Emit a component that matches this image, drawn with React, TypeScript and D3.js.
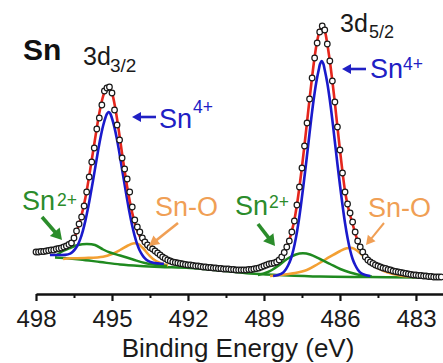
import React, { useEffect, useRef } from "react";
import * as d3 from "d3";

// Measured XPS spectrum: [binding energy (eV), intensity (a.u.)]
const XPS_DATA: [number, number][] = [
  [498.0, 38], [497.9, 38], [497.8, 38.5], [497.7, 38.5], [497.6, 39], [497.5, 39.5], [497.4, 40], [497.3, 40],
  [497.2, 41], [497.1, 41.5], [497.0, 42], [496.9, 43], [496.8, 44], [496.7, 45.5], [496.6, 47], [496.5, 52],
  [496.4, 59], [496.3, 66], [496.2, 73], [496.1, 84], [496.0, 98], [495.9, 113], [495.8, 128], [495.7, 142],
  [495.6, 161], [495.5, 172], [495.4, 185], [495.3, 199], [495.2, 202], [495.1, 203], [495.0, 197], [494.9, 180],
  [494.8, 165], [494.7, 150], [494.6, 132], [494.5, 121], [494.4, 111], [494.3, 98], [494.2, 83], [494.1, 70],
  [494.0, 63], [493.9, 58], [493.8, 52], [493.7, 48], [493.6, 45], [493.5, 42.5], [493.4, 41], [493.3, 39],
  [493.2, 37], [493.1, 35], [493.0, 33], [492.9, 31.5], [492.8, 30], [492.7, 29], [492.6, 28], [492.5, 27.5],
  [492.4, 27], [492.3, 26.5], [492.2, 26], [492.1, 25.5], [492.0, 25], [491.9, 25], [491.8, 24.5], [491.7, 24],
  [491.6, 24], [491.5, 23.5], [491.4, 23], [491.3, 23], [491.2, 22.5], [491.1, 22.5], [491.0, 22], [490.9, 22],
  [490.8, 21.5], [490.7, 21.5], [490.6, 21], [490.5, 21], [490.4, 21], [490.3, 20.5], [490.2, 20.5], [490.1, 20],
  [490.0, 20], [489.9, 20], [489.8, 20], [489.7, 20], [489.6, 20.5], [489.5, 20.5], [489.4, 21], [489.3, 21.5],
  [489.2, 22], [489.1, 23], [489.0, 24], [488.9, 25], [488.8, 26], [488.7, 26.5], [488.6, 27], [488.5, 28],
  [488.4, 30], [488.3, 33], [488.2, 37.5], [488.1, 43], [488.0, 49], [487.9, 58], [487.8, 69], [487.7, 85],
  [487.6, 103], [487.5, 122], [487.4, 144], [487.3, 167], [487.2, 191], [487.1, 212], [487.0, 232], [486.9, 247],
  [486.8, 258], [486.7, 264], [486.6, 260], [486.5, 246], [486.4, 229], [486.3, 209], [486.2, 188], [486.1, 163],
  [486.0, 140], [485.9, 117], [485.8, 98], [485.7, 86], [485.6, 77], [485.5, 68], [485.4, 58], [485.3, 49],
  [485.2, 43], [485.1, 38], [485.0, 33], [484.9, 30], [484.8, 28], [484.7, 26.5], [484.6, 25], [484.5, 24],
  [484.4, 23], [484.3, 22], [484.2, 21.5], [484.1, 20.5], [484.0, 20], [483.9, 19], [483.8, 18.5], [483.7, 18],
  [483.6, 17.5], [483.5, 17], [483.4, 16.5], [483.3, 16], [483.2, 15.5], [483.1, 15], [483.0, 15], [482.9, 14.5],
  [482.8, 14.5], [482.7, 14], [482.6, 14], [482.5, 13.5], [482.4, 13.5], [482.3, 13], [482.2, 13], [482.1, 13],
  [482.0, 13],
];

// Fit envelope (red)
const FIT_ENVELOPE: [number, number][] = [
  [497.4, 38.5], [497.0, 41], [496.8, 43], [496.6, 46.5], [496.5, 51], [496.4, 58], [496.3, 66], [496.2, 75],
  [496.1, 86], [496.0, 99], [495.9, 114], [495.8, 130], [495.7, 146], [495.6, 162], [495.5, 177], [495.4, 189],
  [495.3, 197.5], [495.2, 201.5], [495.1, 202], [495.0, 197], [494.9, 186], [494.8, 171], [494.7, 154],
  [494.6, 136], [494.5, 119], [494.4, 103], [494.3, 89], [494.2, 77], [494.1, 67], [494.0, 59], [493.8, 49],
  [493.6, 43], [493.4, 39], [493.2, 35.5], [493.0, 32.5], [492.7, 29], [492.4, 26.5], [492.0, 24.5],
  [491.5, 23], [491.0, 21.5], [490.5, 20.5], [490.0, 20], [489.6, 20], [489.3, 21], [489.0, 23], [488.8, 25],
  [488.6, 27], [488.4, 30], [488.2, 37], [488.1, 43], [488.0, 50], [487.9, 59], [487.8, 70], [487.7, 85],
  [487.6, 103], [487.5, 123], [487.4, 145], [487.3, 168], [487.2, 191], [487.1, 213], [487.0, 233],
  [486.9, 249], [486.8, 259], [486.7, 263], [486.6, 259], [486.5, 246], [486.4, 229], [486.3, 209],
  [486.2, 187], [486.1, 163], [486.0, 140], [485.9, 118], [485.8, 99], [485.7, 85], [485.6, 75], [485.5, 66],
  [485.4, 57], [485.3, 49], [485.2, 43], [485.1, 38], [485.0, 34], [484.8, 29], [484.6, 25.5], [484.4, 23],
  [484.0, 20], [483.5, 17], [483.0, 15], [482.5, 13.5], [482.0, 13],
];

// Sn4+ components (blue)
const SN4_3D32: [number, number][] = [
  [497.45, 35], [497.13, 35], [496.85, 35.1], [496.65, 36.4], [496.55, 38.2], [496.45, 41.1], [496.35, 45.1],
  [496.25, 51.1], [496.15, 59.2], [496.05, 69.4], [495.95, 81.4], [495.85, 95], [495.75, 109.3], [495.65, 124.2],
  [495.55, 139.2], [495.45, 152.8], [495.35, 164.3], [495.25, 173], [495.19, 176.5], [495.13, 178],
  [495.07, 176.5], [495.01, 172.5], [494.91, 163.4], [494.81, 151.4], [494.71, 137.4], [494.61, 121.9],
  [494.51, 106.6], [494.41, 91.8], [494.31, 77.8], [494.21, 65.3], [494.11, 54.7], [494.01, 46.1],
  [493.91, 39.7], [493.81, 35.2], [493.71, 31.9], [493.61, 29.6], [493.41, 27.4], [493.13, 26.5], [492.95, 26.2],
];
const SN4_3D52: [number, number][] = [
  [488.64, 14], [488.44, 15], [488.24, 17.5], [488.14, 20.5], [488.04, 25], [487.94, 31], [487.84, 40],
  [487.74, 52], [487.64, 67], [487.54, 85], [487.44, 105], [487.34, 126], [487.24, 148], [487.14, 170],
  [487.04, 190], [486.94, 207], [486.84, 220], [486.78, 226.5], [486.72, 229], [486.66, 226.5], [486.6, 220],
  [486.5, 207], [486.4, 190], [486.3, 170], [486.2, 148], [486.1, 126], [486.0, 105], [485.9, 85], [485.8, 67],
  [485.7, 52], [485.6, 40], [485.5, 31], [485.4, 25], [485.3, 20.5], [485.2, 17.5], [485.0, 15], [484.8, 14],
];

// Sn2+ components (green)
const SN2_3D32: [number, number][] = [
  [497.25, 34], [496.93, 39], [496.66, 42], [496.34, 45], [495.99, 46], [495.67, 45], [495.35, 40.5],
  [495.08, 37.5], [494.68, 34.5], [494.17, 30.5], [493.7, 27], [493.22, 25], [492.83, 24],
];
const SN2_3D52: [number, number][] = [
  [489.24, 15], [488.84, 18], [488.45, 24], [488.09, 31], [487.74, 35.5], [487.46, 36.7], [487.18, 35.5],
  [486.79, 31], [486.39, 26], [485.99, 21], [485.6, 17.5], [485.13, 14.5], [484.74, 13.5],
];

// Sn-O components (orange)
const SNO_3D32: [number, number][] = [
  [496.93, 31], [496.66, 31.7], [496.07, 32], [495.35, 33.3], [495.0, 36], [494.68, 40], [494.37, 44.5],
  [494.17, 46.5], [493.97, 46], [493.78, 42], [493.58, 36], [493.38, 31], [493.1, 27], [492.79, 24.5],
];
const SNO_3D52: [number, number][] = [
  [488.76, 14], [488.37, 15], [487.77, 17], [487.31, 20], [486.87, 26], [486.39, 33.3], [485.99, 39],
  [485.73, 41.7], [485.52, 42], [485.36, 40], [485.13, 35], [484.89, 29], [484.62, 23.5], [484.22, 18.5],
  [483.63, 14.5], [483.04, 13],
];

// Background (green)
const BACKGROUND: [number, number][] = [
  [497.25, 32.5], [496.93, 32], [496.26, 30.5], [495.47, 28], [494.68, 25.5], [493.89, 24], [493.1, 23],
  [491.92, 22], [490.74, 19.5], [489.55, 16.5], [488.37, 15], [486.79, 13.5], [484.81, 13], [482.84, 12.5],
  [481.93, 12],
];

const MAJOR_TICKS = [498, 495, 492, 489, 486, 483];
const MINOR_TICKS = [496.5, 493.5, 490.5, 487.5, 484.5];
const X_TITLE = "Binding Energy (eV)";

const W = 443;
const H = 363;
const FONT = "'Liberation Sans', Arial, Helvetica, sans-serif";

const RED = "#e5261d";
const BLUE = "#1a1acc";
const GREEN = "#1f8a1f";
const ORANGE = "#f3a033";
const BLUE_T = "#2020c4";
const GREEN_T = "#2b8c2b";
const ORANGE_T = "#f09f55";

const x = d3.scaleLinear().domain([498, 481.8]).range([36, 36 + 16.2 * 25.33]);
const y = d3.scaleLinear().domain([0, 270]).range([290, 20]);
const AXIS_Y = 294;

const line = d3
  .line<[number, number]>()
  .x((d) => x(d[0]))
  .y((d) => y(d[1]))
  .curve(d3.curveCatmullRom.alpha(0.5));

function Arrow({ x1, y1, x2, y2, color, w, head, hw }: any) {
  const dx = x2 - x1;
  const dy = y2 - y1;
  const len = Math.hypot(dx, dy);
  const ux = dx / len;
  const uy = dy / len;
  const bx = x2 - ux * head;
  const by = y2 - uy * head;
  const nx = -uy;
  const ny = ux;
  const pts = `${x2},${y2} ${bx + nx * hw},${by + ny * hw} ${bx - nx * hw},${by - ny * hw}`;
  return (
    <g>
      <line x1={x1} y1={y1} x2={bx + ux * 1} y2={by + uy * 1} stroke={color} strokeWidth={w} />
      <polygon points={pts} fill={color} />
    </g>
  );
}

export default function App() {
  const axisRef = useRef<SVGGElement>(null);

  useEffect(() => {
    if (!axisRef.current) return;
    const g = d3.select(axisRef.current);
    g.selectAll("*").remove();
    const major = d3
      .axisBottom(x)
      .tickValues(MAJOR_TICKS)
      .tickSize(7)
      .tickSizeOuter(0)
      .tickPadding(8.5)
      .tickFormat((d) => String(d));
    const minor = d3
      .axisBottom(x)
      .tickValues(MINOR_TICKS)
      .tickSize(4)
      .tickSizeOuter(0)
      .tickFormat(() => "");
    const gMinor = g.append("g").call(minor);
    gMinor.select(".domain").remove();
    gMinor.selectAll("line").attr("stroke", "#111").attr("stroke-width", 2);
    const gMajor = g.append("g").call(major);
    gMajor.select(".domain").attr("stroke", "#111").attr("stroke-width", 2.6);
    gMajor.selectAll("line").attr("stroke", "#111").attr("stroke-width", 2.2);
    gMajor
      .selectAll("text")
      .attr("font-family", FONT)
      .attr("font-size", 24)
      .attr("fill", "#1a1a1a");
  }, []);

  return (
    <svg
      width={W}
      height={H}
      style={{ position: "absolute", left: 0, top: 0, background: "#fff", fontFamily: FONT }}
    >
      <rect width={W} height={H} fill="#fff" />
      {/* components */}
      <path d={line(BACKGROUND) || ""} fill="none" stroke={GREEN} strokeWidth={2.5} />
      <path d={line(SNO_3D32) || ""} fill="none" stroke={ORANGE} strokeWidth={2.5} />
      <path d={line(SNO_3D52) || ""} fill="none" stroke={ORANGE} strokeWidth={2.5} />
      <path d={line(SN2_3D32) || ""} fill="none" stroke={GREEN} strokeWidth={2.5} />
      <path d={line(SN2_3D52) || ""} fill="none" stroke={GREEN} strokeWidth={2.5} />
      <path d={line(SN4_3D32) || ""} fill="none" stroke={BLUE} strokeWidth={2.6} />
      <path d={line(SN4_3D52) || ""} fill="none" stroke={BLUE} strokeWidth={2.6} />
      <path d={line(FIT_ENVELOPE) || ""} fill="none" stroke={RED} strokeWidth={2.6} />
      {/* data points */}
      <g>
        {XPS_DATA.map((d, i) => (
          <circle key={i} cx={x(d[0])} cy={y(d[1])} r={2.8} fill="#fff" stroke="#1a1a1a" strokeWidth={1.2} />
        ))}
      </g>

      {/* axis */}
      <g ref={axisRef} transform={`translate(0,${AXIS_Y})`} />
      <text x={238} y={357} textAnchor="middle" fontSize={26} fill="#1a1a1a" fontFamily={FONT}>
        {X_TITLE}
      </text>

      {/* labels */}
      <text x={23} y={60} fontSize={30} fontWeight="bold" fill="#111">Sn</text>
      <text x={83} y={65} fontSize={25} fill="#1a1a1a">3d</text>
      <text x={110} y={72} fontSize={19} fill="#1a1a1a">3/2</text>
      <text x={340} y={32} fontSize={25} fill="#1a1a1a">3d</text>
      <text x={369} y={38} fontSize={18} fill="#1a1a1a">5/2</text>

      {/* Sn4+ labels */}
      <Arrow x1={156} y1={117} x2={132} y2={117} color={BLUE_T} w={2.6} head={9} hw={5} />
      <text x={159} y={128} fontSize={27} fill={BLUE_T}>Sn</text>
      <text x={193} y={112.5} fontSize={17.5} fill={BLUE_T}>4+</text>
      <Arrow x1={366} y1={69} x2={342} y2={69} color={BLUE_T} w={2.6} head={9} hw={5} />
      <text x={370} y={78.3} fontSize={27} fill={BLUE_T}>Sn</text>
      <text x={403} y={69.5} fontSize={17.5} fill={BLUE_T}>4+</text>

      {/* Sn2+ labels */}
      <text x={22} y={210} fontSize={27} fill={GREEN_T}>Sn</text>
      <text x={57} y={205.5} fontSize={17.5} fill={GREEN_T}>2+</text>
      <Arrow x1={42} y1={217} x2={62} y2={240} color={GREEN_T} w={3.6} head={11} hw={6.5} />
      <text x={235} y={215} fontSize={27} fill={GREEN_T}>Sn</text>
      <text x={269} y={207.5} fontSize={17.5} fill={GREEN_T}>2+</text>
      <Arrow x1={258} y1={224} x2={275} y2={246} color={GREEN_T} w={3.6} head={11} hw={6.5} />

      {/* Sn-O labels */}
      <text x={155} y={215.5} fontSize={27} fill={ORANGE_T}>Sn-O</text>
      <Arrow x1={178} y1={223} x2={149} y2={246} color={ORANGE_T} w={2.6} head={10} hw={5.5} />
      <text x={368} y={216.5} fontSize={27} fill={ORANGE_T}>Sn-O</text>
      <Arrow x1={384} y1={223} x2={366} y2={245} color={ORANGE_T} w={2} head={9} hw={5} />
    </svg>
  );
}
